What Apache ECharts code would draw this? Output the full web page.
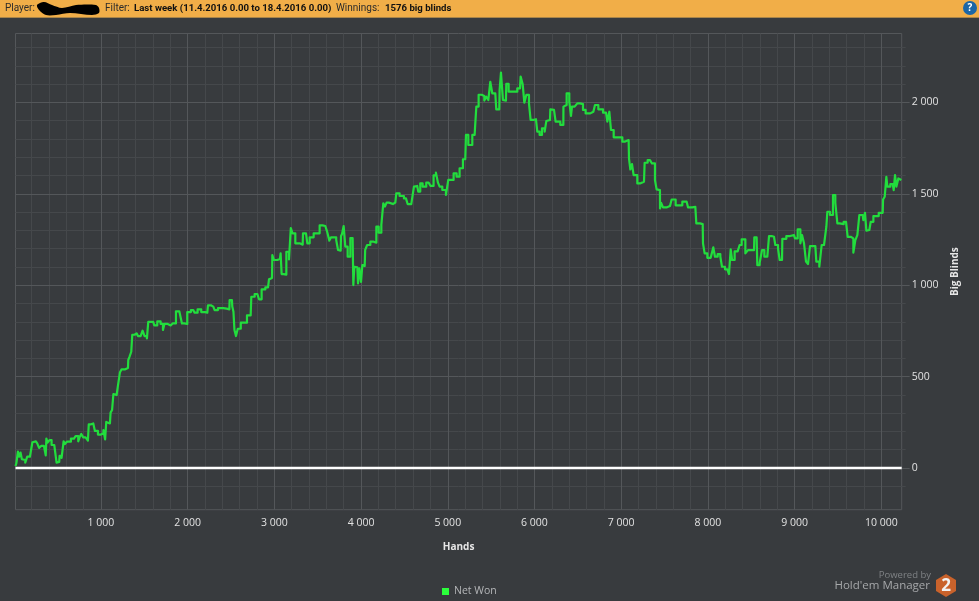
<!DOCTYPE html>
<html><head><meta charset="utf-8">
<script src="https://cdn.jsdelivr.net/npm/echarts@6/dist/echarts.min.js"></script>
<style>html,body{margin:0;padding:0;background:#383b3e}#c{width:979px;height:601px}</style>
</head><body><div id="c"></div>
<script>
const hands = [15,35,50,66,81,96,112,143,158,204,216,250,281,293,327,358,369,373,396,419,443,481,496,519,527,566,573,596,619,689,727,750,758,789,804,842,858,862,912,950,981,1019,1039,1058,1065,1104,1119,1138,1150,1181,1211,1227,1250,1312,1319,1342,1358,1365,1412,1442,1473,1488,1519,1542,1550,1604,1627,1673,1704,1727,1738,1804,1850,1881,1927,1942,1981,2011,2065,2096,2134,2180,2227,2242,2296,2327,2373,2450,2481,2488,2511,2519,2538,2542,2573,2584,2642,2727,2742,2804,2842,2865,2927,2950,2973,2981,3007,3065,3080,3088,3127,3150,3188,3192,3227,3257,3327,3334,3365,3396,3419,3488,3557,3588,3627,3642,3665,3700,3727,3742,3765,3773,3788,3811,3826,3865,3888,3903,3919,3926,3957,3973,3988,4011,4019,4042,4053,4088,4126,4165,4188,4219,4249,4264,4287,4302,4341,4395,4418,4471,4518,4556,4602,4618,4648,4671,4695,4725,4779,4825,4848,4879,4895,4918,4956,5002,5010,5056,5079,5125,5148,5202,5218,5256,5310,5318,5341,5371,5410,5433,5456,5479,5502,5525,5548,5571,5594,5602,5625,5648,5671,5679,5725,5771,5833,5848,5879,5887,5925,5948,5963,6017,6048,6071,6102,6133,6140,6179,6187,6225,6263,6333,6335,6356,6386,6417,6425,6440,6486,6502,6548,6571,6609,6679,6717,6756,6825,6856,6871,6894,6933,6986,7040,7086,7094,7117,7132,7155,7217,7263,7278,7332,7378,7401,7417,7447,7449,7470,7494,7563,7601,7655,7755,7786,7855,7878,7940,7947,7978,8009,8055,8070,8093,8132,8155,8170,8224,8262,8264,8293,8324,8362,8370,8409,8455,8470,8532,8539,8562,8578,8616,8632,8670,8701,8709,8762,8793,8824,8832,8855,8862,8947,8993,9016,9055,9078,9093,9124,9139,9170,9185,9239,9262,9308,9316,9362,9370,9385,9431,9454,9485,9501,9539,9593,9631,9662,9693,9708,9739,9754,9785,9800,9824,9831,9862,9893,9924,10016,10024,10054,10062,10077,10131,10154,10162,10185,10208,10231];
const netWon = [11,26,90,62,84,48,44,29,62,62,141,146,135,110,121,124,69,161,139,153,126,121,29,33,66,55,146,131,144,161,175,146,168,186,168,175,150,239,244,203,183,190,208,157,252,244,303,317,405,399,449,522,540,547,591,609,636,729,737,722,718,751,722,709,799,799,780,802,788,755,788,780,791,857,853,791,788,853,864,850,868,853,850,890,883,864,875,872,868,919,919,883,855,755,722,762,795,835,937,952,923,977,988,1032,1039,1165,1138,1145,1174,1061,1058,1183,1141,1313,1284,1229,1222,1284,1284,1229,1262,1284,1327,1324,1295,1244,1262,1262,1247,1193,1189,1269,1280,1324,1211,1156,1258,1258,1001,1101,1098,1010,1092,1018,1110,1105,1193,1220,1238,1233,1320,1287,1330,1448,1430,1452,1444,1452,1503,1488,1475,1444,1439,1539,1543,1512,1557,1539,1561,1543,1601,1616,1561,1539,1521,1494,1576,1576,1612,1594,1640,1689,1822,1767,1822,1858,1977,2042,2035,2010,2031,2013,2113,2050,2050,1962,1962,2068,2163,2013,2010,2101,2059,2059,2077,2141,2101,1999,2041,1995,1904,1908,1840,1822,1858,1840,1898,1904,1962,1959,1895,1877,1977,1986,2050,2004,1926,1977,1980,1995,1991,1959,1940,1949,1986,1962,1944,1895,1949,1849,1809,1809,1785,1794,1694,1633,1663,1602,1557,1566,1670,1684,1666,1575,1524,1520,1420,1451,1426,1433,1469,1437,1457,1426,1429,1338,1334,1229,1174,1150,1152,1207,1156,1170,1156,1101,1087,1061,1196,1138,1185,1185,1220,1251,1174,1192,1192,1262,1262,1110,1123,1192,1156,1152,1269,1265,1220,1201,1138,1138,1254,1269,1274,1256,1305,1229,1274,1229,1129,1116,1214,1214,1129,1101,1220,1214,1320,1402,1384,1493,1451,1338,1334,1347,1265,1256,1178,1247,1274,1384,1384,1356,1396,1298,1302,1347,1378,1396,1469,1484,1593,1539,1553,1520,1602,1539,1584,1576];
const xMajor = [1000,2000,3000,4000,5000,6000,7000,8000,9000,10000];
const xMinor = [200,400,600,800,1200,1400,1600,1800,2200,2400,2600,2800,3200,3400,3600,3800,4200,4400,4600,4800,5200,5400,5600,5800,6200,6400,6600,6800,7200,7400,7600,7800,8200,8400,8600,8800,9200,9400,9600,9800];
const yMajor = [0,500,1000,1500,2000];
const yMinor = [-100,100,200,300,400,600,700,800,900,1100,1200,1300,1400,1600,1700,1800,1900,2100,2200,2300];
const xRange = [15,10235], yRange = [-228,2377];

const FONT = '"Open Sans",sans-serif';
const HEAD = 'Roboto,sans-serif';
const fmt = v => String(v).replace(/\B(?=(\d{3})+$)/g,' ');
const majorLine = '#54575a', minorLine = '#45484b';
const chart = echarts.init(document.getElementById('c'),null,{renderer:'canvas'});
chart.setOption({
  animation:false,
  backgroundColor:'#383b3e',
  textStyle:{fontFamily:FONT},
  grid:{left:15.5,right:77.3,top:33.5,bottom:91.3,show:true,borderColor:'#54575a',borderWidth:1,backgroundColor:'transparent'},
  legend:{left:437,top:581,icon:'rect',itemWidth:7,itemHeight:7,itemGap:5,
    textStyle:{color:'#b4b6b8',fontSize:10.5,fontFamily:FONT},
    data:[{name:'Net Won',itemStyle:{color:'#2bff3b'}}]},
  xAxis:[
    {type:'value',position:'bottom',min:xRange[0],max:xRange[1],
     name:'Hands',nameLocation:'middle',nameGap:32,
     nameTextStyle:{color:'#e6e6e6',fontSize:10,fontWeight:'bold',fontFamily:FONT},
     axisLine:{show:false},
     axisTick:{show:true,length:1,customValues:xMajor,lineStyle:{color:majorLine}},
     axisLabel:{show:true,customValues:xMajor,color:'#e2e2e2',fontSize:10.5,margin:8,fontFamily:FONT,formatter:fmt},
     splitLine:{show:true,lineStyle:{color:majorLine,width:1}},z:3},
    {type:'value',position:'bottom',min:xRange[0],max:xRange[1],
     axisLine:{show:false},
     axisTick:{show:true,length:4,customValues:xMinor,lineStyle:{color:minorLine}},
     axisLabel:{show:false},
     splitLine:{show:true,lineStyle:{color:minorLine,width:1}},z:2}
  ],
  yAxis:[
    {type:'value',position:'right',min:yRange[0],max:yRange[1],
     name:'Big Blinds',nameLocation:'middle',nameGap:48,nameRotate:90,
     nameTextStyle:{color:'#e6e6e6',fontSize:10,fontWeight:'bold',fontFamily:FONT},
     axisLine:{show:false},
     axisTick:{show:true,length:8,customValues:yMajor,lineStyle:{color:majorLine}},
     axisLabel:{show:true,customValues:yMajor,color:'#e2e2e2',fontSize:10.5,margin:10,fontFamily:FONT,formatter:fmt},
     splitLine:{show:true,lineStyle:{color:majorLine,width:1}},z:3},
    {type:'value',position:'right',min:yRange[0],max:yRange[1],
     axisLine:{show:false},
     axisTick:{show:true,length:4,customValues:yMinor,lineStyle:{color:minorLine}},
     axisLabel:{show:false},
     splitLine:{show:true,lineStyle:{color:minorLine,width:1}},z:2}
  ],
  series:[{
    name:'Net Won',type:'line',xAxisIndex:0,yAxisIndex:0,
    data:hands.map((h,i)=>[h,netWon[i]]),
    showSymbol:false,symbol:'none',smooth:false,step:'middle',
    lineStyle:{color:'#22dd3d',width:2.2,join:'round'},itemStyle:{color:'#22dd3d'},
    markLine:{silent:true,symbol:'none',label:{show:false},animation:false,
      lineStyle:{color:'#ffffff',width:2.4,type:'solid'},data:[{yAxis:0}]},
    z:5
  }],
  graphic:[
    {type:'rect',z:10,shape:{x:0,y:0,width:979,height:17},style:{fill:'#f1ae48'}},
    {type:'rect',z:10,shape:{x:0,y:17,width:979,height:1},style:{fill:'#a9854a'}},
    {type:'text',z:11,x:5,y:3,style:{text:'Player:',fill:'#2b2b2b',font:'10px '+HEAD}},
    {type:'polygon',z:11,shape:{points:[[37,5],[44,2],[52,5],[62,8],[76,5],[96,5],[99,8],[99,13],[92,15],[70,13],[56,15],[46,15],[39,10]],smooth:0.3},style:{fill:'#000'}},
    {type:'text',z:11,x:105,y:3,style:{text:'Filter:',fill:'#2b2b2b',font:'10px '+HEAD}},
    {type:'text',z:11,x:134,y:3.5,style:{text:'Last week (11.4.2016 0.00 to 18.4.2016 0.00)',fill:'#111',font:'bold 9.6px '+HEAD}},
    {type:'text',z:11,x:336,y:3,style:{text:'Winnings:',fill:'#2b2b2b',font:'10px '+HEAD}},
    {type:'text',z:11,x:385,y:3.5,style:{text:'1576 big blinds',fill:'#111',font:'bold 9.6px '+HEAD}},
    {type:'circle',z:11,shape:{cx:970,cy:8,r:7},style:{fill:'#1b66a6'}},
    {type:'text',z:12,x:970,y:8,style:{text:'?',fill:'#fff',font:'bold 10px '+FONT,align:'center',verticalAlign:'middle'}},
    {type:'text',z:11,x:931,y:575,style:{text:'Powered by',fill:'#7f8285',font:'9.5px '+FONT,align:'right',verticalAlign:'middle'}},
    {type:'text',z:11,x:930,y:586,style:{text:"Hold'em Manager",fill:'#a6a8aa',font:'11.5px '+FONT,align:'right',verticalAlign:'middle'}},
    {type:'polygon',z:11,shape:{points:[[946,574],[956,580],[956,591],[946,597],[936,591],[936,580]]},style:{fill:'#c9622b'}},
    {type:'text',z:12,x:946,y:586,style:{text:'2',fill:'#f2f2f2',font:'bold 17px '+FONT,align:'center',verticalAlign:'middle'}}
  ]
});
</script></body></html>
